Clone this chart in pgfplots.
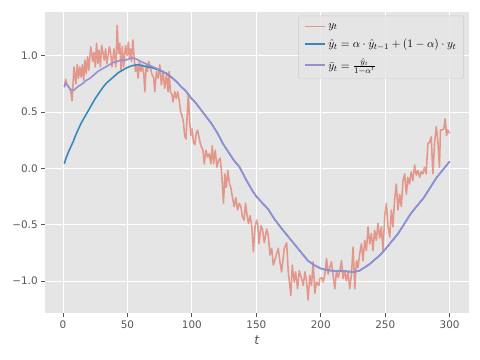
\documentclass[border=0pt]{standalone}
\usepackage{fontspec}
\setmainfont{DejaVu Sans}
\usepackage{pgfplots}
\pgfplotsset{compat=1.18}
\definecolor{bgc}{HTML}{E5E5E5}
\definecolor{ticc}{HTML}{555555}
\definecolor{cred}{HTML}{E24A33}
\definecolor{cblue}{HTML}{348ABD}
\definecolor{cpurp}{HTML}{988ED5}
\definecolor{legedge}{HTML}{CCCCCC}
\begin{document}
\begin{tikzpicture}
\path[use as bounding box] (-43.2pt,-45.1pt) rectangle (417.6pt,300.5pt);
\begin{axis}[
  scale only axis, width=407pt, height=289.2pt,
  xmin=-14, xmax=315, ymin=-1.285, ymax=1.39,
  axis background/.style={fill=bgc},
  axis line style={draw=none},
  grid=major, major grid style={white, line width=0.8pt},
  tick align=outside, tick pos=left,
  major tick length=3.5pt,
  tick style={ticc, line width=0.8pt},
  xtick={0,50,100,150,200,250,300},
  xticklabels={0,50,100,150,200,250,300},
  ytick={-1,-0.5,0,0.5,1},
  yticklabels={−1.0,−0.5,0.0,0.5,1.0},
  ticklabel style={font=\fontsize{10}{12}\selectfont, text=ticc},
  xlabel={\textit{t}},
  xlabel style={font=\fontsize{12}{14}\selectfont, text=ticc},
  legend style={at={(0.988,0.987)}, anchor=north east, fill=bgc, fill opacity=0.8, text opacity=1,
    draw=legedge, rounded corners=2pt, font=\fontsize{11}{13}\selectfont,
    row sep=5pt, inner xsep=5pt, inner ysep=5pt},
  legend cell align=left,
  legend image code/.code={\draw[#1] (0pt,0pt) -- (20pt,0pt);},
]
\addplot[cred, draw opacity=0.5, line width=1.5pt, line join=round, mark=none] coordinates {
(1,0.72) (2,0.79) (3,0.74) (5,0.71) (6,0.68) (7,0.60) (8.5,0.90) (10,0.75) (11,0.92) (12,0.80) (13,0.90) (14,0.81) (15,0.92) (16,0.78) (17,0.96) (18,0.84) (19,0.99) (20,0.87) (21.5,1.08) (23,0.95) (24,1.03) (25,0.90) (26,1.11) (27,0.93) (28,1.05) (29,0.90) (30,1.09) (32,0.96) (33,1.06) (34,0.93) (36,1.08) (37,1.02) (38,0.90) (39.5,1.06) (41,0.90) (42,1.27) (43,1.02) (44,1.11) (45,0.87) (46,1.08) (47,0.90)
(48.5,1.09) (49.8,1.00) (50.6,1.12) (51.6,0.98) (52.4,1.06) (53.1,0.95) (54.2,1.14) (55.2,0.98) (56.2,0.86) (57.3,0.92) (58.3,0.80) (59.3,0.95) (60.4,0.86) (61.4,0.92) (62.7,0.83) (63.5,0.68) (64.5,0.92) (65.5,0.86) (66.5,0.95) (67.8,0.89) (69.1,0.83) (70.4,0.80) (71.2,0.68) (72.5,0.86) (73.8,0.80) (75.1,0.92) (76.3,0.74) (77.6,0.86) (78.9,0.71) (80.2,0.83) (81.5,0.68) (82.3,0.86) (83.3,0.68) (84.6,0.65) (85.4,0.59) (86.7,0.68) (87.9,0.62) (89,0.68) (90.3,0.59) (91.3,0.50) (92.3,0.47) (93.4,0.41) (94.4,0.29) (95.4,0.26) (96.5,0.50) (97.2,0.66) (98.3,0.41) (99.3,0.29) (100.1,0.35) (101.3,0.23) (102.3,0.21)
(103.4,0.31) (104.4,0.34) (106,0.25) (107,0.20) (108.6,0.16) (109.6,0.04) (110.9,0.16) (112.2,0.10) (113.5,0.13) (114.7,0.04) (115.8,0.20) (116.8,0.04) (118.1,0.16) (119.4,0.01) (120.7,0.07) (122,0.09) (123.3,-0.08) (124.5,-0.31) (125.6,-0.05) (126.6,-0.17) (127.9,-0.02) (129.2,-0.14) (130.2,-0.17) (131.5,-0.26) (132.8,-0.34) (134.1,-0.26) (135.4,-0.37) (136.7,-0.31) (138,-0.34) (139.2,-0.43) (140.5,-0.46) (141.6,-0.31) (142.6,-0.40) (143.9,-0.49) (145.2,-0.42) (146.5,-0.52) (147.7,-0.74) (149,-0.52) (150.3,-0.46) (151.1,-0.49)
(152.1,-0.67) (153.6,-0.51) (154.7,-0.54) (156.2,-0.66) (158,-0.54) (159.3,-0.60) (160.6,-0.77) (161.9,-0.71) (163.2,-0.86) (165,-0.79) (167,-0.71) (168.3,-0.83) (169.6,-0.92) (171.7,-0.71) (173.5,-0.66) (174.8,-0.92) (176.8,-1.13) (177.9,-0.86) (179.4,-1.01) (180.5,-0.92) (182,-1.07) (183.3,-0.91) (185.1,-0.98) (186.4,-1.04) (187.7,-0.92) (189,-1.01) (190.2,-1.17) (191.5,-0.95) (192.8,-1.04) (194.1,-0.83) (195.4,-1.11) (196.7,-1.01) (198.5,-1.04)
(199.3,-0.98) (200.6,-0.97) (201.9,-1.01) (203.2,-0.94) (204.5,-0.80) (205.7,-0.94) (207,-0.88) (208.3,-0.83) (209.6,-0.95) (210.9,-1.07) (212.2,-0.91) (213.5,-0.97) (214.8,-0.91) (216.1,-0.82) (217.3,-0.98) (218.6,-0.91) (219.9,-1.00) (221.2,-0.92) (222.5,-1.07) (223.8,-0.94) (225.1,-0.70) (226.4,-1.07) (227.7,-0.82) (228.9,-0.88) (230.2,-0.76) (231.5,-0.67) (232.8,-0.82) (234.1,-0.64) (235.4,-0.73) (236.7,-0.52) (238,-0.67) (239.3,-0.58) (240.5,-0.73) (241.8,-0.55) (243.1,-0.64) (244.4,-0.49) (245.7,-0.62) (247,-0.52) (248.3,-0.73) (249.6,-0.43)
(250.9,-0.31) (252.2,-0.52) (253.5,-0.61) (254.8,-0.37) (256,-0.52) (257.3,-0.28) (258.6,-0.14) (259.9,-0.37) (261.2,-0.23) (262.5,-0.34) (263.8,-0.11) (265.1,-0.05) (266.4,-0.23) (267.6,-0.08) (268.9,-0.14) (270.2,-0.03) (271.5,-0.11) (272.8,0.03) (274.1,-0.06) (275.4,-0.02) (276.7,-0.08) (277.9,-0.03) (279.2,-0.05) (280.5,0.01) (281.8,-0.05) (283.1,0.22) (284.4,0.23) (285.7,0.28) (287,-0.05) (288.3,0.22) (289.6,0.37) (290.8,0.25) (292.1,0.01) (292.9,0.34) (293.9,0.34) (295.5,0.35) (296.5,0.44) (297.6,0.29) (298.6,0.34) (300,0.31)
};
\addlegendentry{$y_t$}
\addplot[cblue, line width=1.5pt, line join=round, mark=none] coordinates {
(1,0.04) (2,0.08) (4,0.14) (6,0.19) (8,0.24) (10,0.30) (12,0.35) (14,0.40) (16,0.44) (18,0.48) (20,0.52) (22,0.56) (25,0.62) (28,0.67) (31,0.72) (34,0.76) (37,0.79) (40,0.82) (43,0.85) (46,0.87) (49,0.89) (52,0.905) (55,0.915) (58,0.92) (62,0.91) (66,0.90) (70,0.89) (75,0.87) (80,0.845) (84,0.81) (88,0.77) (92,0.72) (95,0.69) (99,0.63) (103,0.58) (107,0.52) (111,0.46) (115,0.40) (120,0.31) (124,0.22) (128,0.15) (132,0.08) (137,0.01) (142,-0.10) (147,-0.20) (150,-0.25) (154,-0.30) (159,-0.36) (164,-0.45) (170,-0.54) (175,-0.61) (180,-0.68) (185,-0.75) (190,-0.82) (195,-0.86) (200,-0.89) (205,-0.905) (210,-0.91) (215,-0.91) (220,-0.915) (225,-0.92) (230,-0.91) (234,-0.88) (238,-0.85) (242,-0.81) (246,-0.77) (250,-0.72) (255,-0.65) (260,-0.58) (265,-0.49) (270,-0.40) (275,-0.33) (280,-0.26) (285,-0.17) (290,-0.08) (295,-0.01) (300,0.06)
};
\addlegendentry{$\hat{y}_t = \alpha\cdot\hat{y}_{t-1} + (1-\alpha)\cdot y_t$}
\addplot[cpurp, line width=1.5pt, line join=round, mark=none] coordinates {
(1,0.72) (2,0.76) (4,0.73) (6,0.70) (8,0.69) (10,0.71) (12,0.73) (15,0.75) (18,0.78) (21,0.80) (24,0.83) (27,0.86) (30,0.88) (33,0.90) (36,0.92) (39,0.94) (42,0.95) (45,0.96) (48,0.96) (51,0.97) (54,0.98) (57,0.97) (60,0.95) (64,0.93) (68,0.91) (72,0.89) (76,0.87) (80,0.84) (84,0.81) (88,0.77) (92,0.72) (95,0.69) (99,0.63) (103,0.58) (107,0.52) (111,0.46) (115,0.40) (120,0.31) (124,0.22) (128,0.15) (132,0.08) (137,0.01) (142,-0.10) (147,-0.20) (150,-0.25) (154,-0.30) (159,-0.36) (164,-0.45) (170,-0.54) (175,-0.61) (180,-0.68) (185,-0.75) (190,-0.82) (195,-0.86) (200,-0.89) (205,-0.905) (210,-0.91) (215,-0.91) (220,-0.915) (225,-0.92) (230,-0.91) (234,-0.88) (238,-0.85) (242,-0.81) (246,-0.77) (250,-0.72) (255,-0.65) (260,-0.58) (265,-0.49) (270,-0.40) (275,-0.33) (280,-0.26) (285,-0.17) (290,-0.08) (295,-0.01) (300,0.06)
};
\addlegendentry{$\bar{y}_t = \frac{\hat{y}_t}{1-\alpha^t}$}
\end{axis}
\end{tikzpicture}
\end{document}
